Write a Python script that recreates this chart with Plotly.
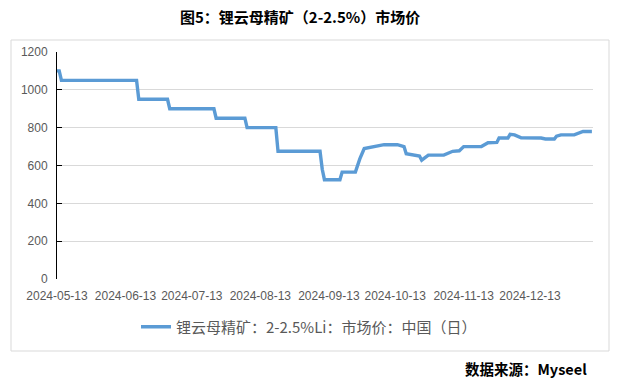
import plotly.graph_objects as go

# ---- data ----
dates = ["2024-05-13", "2024-05-14", "2024-05-15", "2024-06-18", "2024-06-19",
         "2024-07-02", "2024-07-03", "2024-07-23", "2024-07-24", "2024-08-06",
         "2024-08-07", "2024-08-20", "2024-08-21", "2024-09-09", "2024-09-10",
         "2024-09-11", "2024-09-18", "2024-09-19", "2024-09-25", "2024-09-27",
         "2024-09-29", "2024-10-08", "2024-10-14", "2024-10-16", "2024-10-17",
         "2024-10-18", "2024-10-21", "2024-10-24", "2024-10-25", "2024-10-28",
         "2024-11-04", "2024-11-06", "2024-11-08", "2024-11-11", "2024-11-13",
         "2024-11-21", "2024-11-24", "2024-11-28", "2024-11-29", "2024-12-03",
         "2024-12-04", "2024-12-06", "2024-12-09", "2024-12-18", "2024-12-20",
         "2024-12-24", "2024-12-25", "2024-12-27", "2025-01-02", "2025-01-06",
         "2025-01-10"]
prices = [1100, 1100, 1050, 1050, 950,
          950, 900, 900, 850, 850,
          800, 800, 675, 675, 580,
          525, 525, 565, 565, 635,
          690, 710, 710, 702, 700,
          662, 655, 650, 628, 655,
          655, 665, 675, 678, 700,
          700, 720, 722, 745, 745,
          765, 762, 746, 745, 740,
          740, 755, 762, 762, 780,
          780]

series_name = "锂云母精矿：2-2.5%Li：市场价：中国（日）"
title_text = "图5：锂云母精矿（2-2.5%）市场价"
source_text = "数据来源：Myseel"
y_ticks = [0, 200, 400, 600, 800, 1000, 1200]
x_tick_start = "2024-05-13"
x_range = ["2024-05-13", "2025-01-10 12:00"]

W, H = 618, 384
L, R, T, B = 57, 25, 52, 105
pw, ph = W - L - R, H - T - B


def px_x(p):
    return (p - L) / pw


def px_y(p):
    return (H - B - p) / ph


fig = go.Figure()
fig.add_trace(go.Scatter(
    x=dates, y=prices, mode="lines", name=series_name,
    line=dict(color="#5b9bd5", width=3.4),
))

gray = "#595959"
fig.update_layout(
    width=W, height=H,
    margin=dict(l=L, r=R, t=T, b=B),
    paper_bgcolor="white", plot_bgcolor="white",
    font=dict(family="Liberation Sans, Arial, sans-serif", size=12, color=gray),
    showlegend=True,
    legend=dict(
        orientation="h", x=px_x(136), xanchor="left", y=px_y(327), yanchor="middle",
        font=dict(family="Noto Sans CJK SC", size=15, color=gray),
        bgcolor="rgba(0,0,0,0)", itemwidth=30,
    ),
    xaxis=dict(
        type="date", range=x_range, tick0=x_tick_start, dtick="M1",
        tickformat="%Y-%m-%d", showgrid=False, zeroline=False, showline=False,
        ticks="", ticklabelstandoff=8,
        tickfont=dict(family="Liberation Sans", size=12, color=gray),
    ),
    yaxis=dict(
        range=[0, 1200], tickvals=y_ticks, showgrid=True, gridcolor="#d9d9d9",
        gridwidth=1, zeroline=False, showline=True, linecolor="black", linewidth=1,
        ticks="inside", ticklen=5, tickcolor="black", tickwidth=1,
        ticklabelstandoff=6,
        tickfont=dict(family="Liberation Sans", size=12, color=gray),
    ),
    shapes=[dict(
        type="rect", xref="paper", yref="paper",
        x0=px_x(11), x1=px_x(609), y0=px_y(351), y1=px_y(40),
        line=dict(color="#d9d9d9", width=1), fillcolor="rgba(0,0,0,0)", layer="below",
    )],
    annotations=[
        dict(text="<b>" + title_text + "</b>", xref="paper", yref="paper",
             x=px_x(300), y=px_y(16.5), xanchor="center", yanchor="middle",
             showarrow=False,
             font=dict(family="Noto Sans CJK SC", size=15, color="black")),
        dict(text="<b>" + source_text + "</b>", xref="paper", yref="paper",
             x=px_x(589), y=px_y(368), xanchor="right", yanchor="middle",
             showarrow=False,
             font=dict(family="Noto Sans CJK SC", size=14.5, color="black")),
    ],
)

fig.write_html("out.html",
               config={"displayModeBar": False},
               post_script="document.body.style.margin='0';document.body.style.padding='0';")
